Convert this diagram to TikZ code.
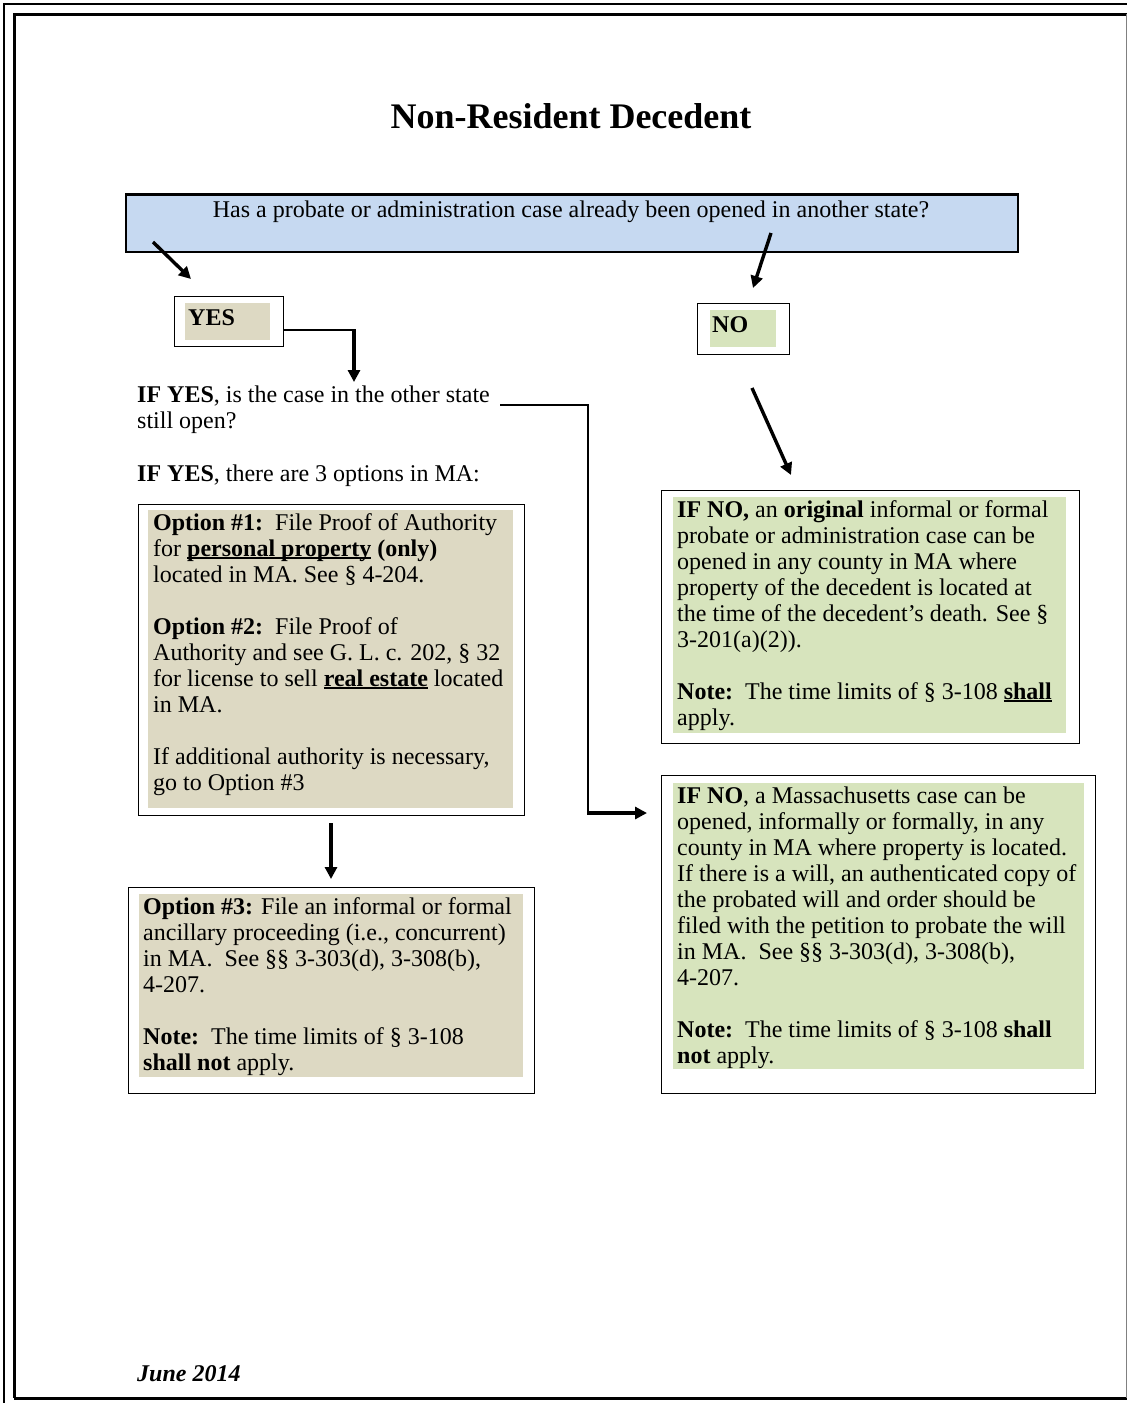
\documentclass[tikz,border=0pt]{standalone}
\usepackage{fontspec}
\setmainfont{Liberation Serif}
\usetikzlibrary{arrows.meta}
\definecolor{qblue}{HTML}{C6D9F1}
\definecolor{tanfill}{HTML}{DDD9C3}
\definecolor{sage}{HTML}{D7E4BD}
\newcommand{\bodyfont}{\fontsize{24}{26}\selectfont}
\newcommand{\fst}{\vrule height 17pt depth 0pt width 0pt}
\newcommand{\thickul}[1]{\leavevmode\setbox0\hbox{#1}\rlap{\rule[-3pt]{\wd0}{2pt}}\box0\relax}
\begin{document}
\begin{tikzpicture}[x=1pt,y=-1pt,
  outerbox/.style={draw, line width=1.4pt, anchor=north west, inner sep=0pt, fill=white},
  bodytext/.style={anchor=north west, inner sep=0pt, align=left, font=\bodyfont},
  bigarrow/.style={line width=3.4pt, -{Triangle[length=12pt,width=12pt]}},
  thinline/.style={line width=1.4pt}]
\useasboundingbox (0,0) rectangle (1127,1403);
% page border
\draw[line width=1.2pt] (4,1410) -- (4,4) -- (1140,4);
\draw[line width=3pt] (14,1398) -- (14,14) -- (1140,14);
\draw[line width=3pt] (14,1398) -- (1140,1398);
\draw[line width=1pt, gray] (1126,14) -- (1126,1398);
% title
\node[font=\fontsize{36}{40}\selectfont\bfseries, inner sep=0pt] (title) at (571,116) {Non-Resident Decedent};
% question box
\node[draw, fill=qblue, line width=1.6pt, anchor=north west, inner sep=0pt, minimum width=892pt, minimum height=57pt] (q) at (125,194) {};
\draw[line width=3pt] (q.north west) -- (q.north east);
\node[bodytext, anchor=north] (qt) at (571,200) {\fst Has a probate or administration case already been opened in another state?};
% YES box
\node[outerbox, minimum width=109pt, minimum height=50pt] (yes) at (174,296) {};
\fill[tanfill] (185,303) rectangle (270,340);
\node[bodytext] (yest) at (188,308) {\fst\bfseries YES};
% NO box
\node[outerbox, minimum width=92pt, minimum height=51pt] (no) at (697,303) {};
\fill[sage] (710,310) rectangle (776,347);
\node[bodytext] (not) at (712,315) {\fst\bfseries NO};
% diagonal arrows from question
\coordinate (qy) at (153,242);
\coordinate (qyend) at (191,279);
\coordinate (qn) at (771,233);
\coordinate (qnend) at (753,288);
\draw[bigarrow] (qy) -- (qyend);
\draw[bigarrow] (qn) -- (qnend);
% IF YES question text
\node[bodytext] (ify) at (137,385) {\fst\textbf{IF YES}, is the case in the other state\\still open?};
\node[bodytext] (ify3) at (137,464) {\fst\textbf{IF YES}, there are 3 options in MA:};
% YES -> question
\coordinate (yc1) at (354,330);
\coordinate (yc2) at (354,382);
\draw[thinline] (yes.east |- yc1) -- (yc1);
\draw[bigarrow] ([yshift=0.7pt]yc1) -- (yc2);
% Option 1 box
\node[outerbox, minimum width=386pt, minimum height=311pt] (opt1) at (138,504) {};
\fill[tanfill] (148,510) rectangle (513,808);
\node[bodytext] (opt1t) at (153,513) {\fst\textbf{Option \#1:}\ \ File Proof of Authority\\
for \thickul{\textbf{personal property}} \textbf{(only)}\\
located in MA. See § 4-204.\\[26pt]
\textbf{Option \#2:}\ \ File Proof of\\
Authority and see G. L. c. 202, § 32\\
for license to sell \thickul{\textbf{real estate}} located\\
in MA.\\[26pt]
If additional authority is necessary,\\
go to Option \#3};
% Option 3 box
\node[outerbox, minimum width=406pt, minimum height=206pt] (opt3) at (128,887) {};
\fill[tanfill] (139,894) rectangle (523,1077);
\node[bodytext] (opt3t) at (143,897) {\fst\textbf{Option \#3:} File an informal or formal\\
ancillary proceeding (i.e., concurrent)\\
in MA.\ \ See §§ 3-303(d), 3-308(b),\\
4-207.\\[26pt]
\textbf{Note:}\ \ The time limits of § 3-108\\
\textbf{shall not} apply.};
\coordinate (o1s) at (331,823);
\coordinate (o3n) at (331,879);
\draw[bigarrow] (o1s) -- (o3n);
% NO box 1
\node[outerbox, minimum width=418pt, minimum height=253pt] (no1) at (661,490) {};
\fill[sage] (673,497) rectangle (1066,733);
\node[bodytext] (no1t) at (677,500) {\fst\textbf{IF NO,} an \textbf{original} informal or formal\\
probate or administration case can be\\
opened in any county in MA where\\
property of the decedent is located at\\
the time of the decedent's death. See §\\
3-201(a)(2)).\\[26pt]
\textbf{Note:}\ \ The time limits of § 3-108 \thickul{\textbf{shall}}\\
apply.};
% NO box 2
\node[outerbox, minimum width=434pt, minimum height=318pt] (no2) at (661,775) {};
\fill[sage] (673,783) rectangle (1084,1069);
\node[bodytext] (no2t) at (677,786) {\fst\textbf{IF NO}, a Massachusetts case can be\\
opened, informally or formally, in any\\
county in MA where property is located.\\
If there is a will, an authenticated copy of\\
the probated will and order should be\\
filed with the petition to probate the will\\
in MA.\ \ See §§ 3-303(d), 3-308(b),\\
4-207.\\[26pt]
\textbf{Note:}\ \ The time limits of § 3-108 \textbf{shall}\\
\textbf{not} apply.};
% NO -> NO box 1
\coordinate (ns) at (752,388);
\coordinate (ne) at (791,475);
\draw[bigarrow] (ns) -- (ne);
% IF YES open -> NO box 2
\coordinate (ly1) at (500,405);
\coordinate (ly2) at (588,405);
\coordinate (ly3) at (588,813);
\draw[thinline] (ly1) -- (ly2) -- (ly3);
\coordinate (ly4) at (647,813);
\draw[bigarrow] ([xshift=-0.7pt]ly3) -- (ly4);
% date
\node[anchor=west, inner sep=0pt, font=\fontsize{24}{26}\selectfont\bfseries\itshape] (date) at (137,1374) {June 2014};
\end{tikzpicture}
\end{document}
